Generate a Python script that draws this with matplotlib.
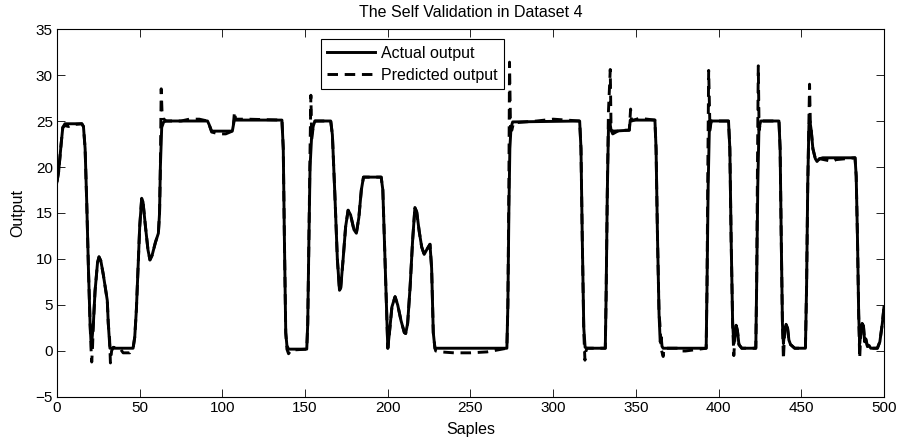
import matplotlib
matplotlib.use("Agg")
import matplotlib.pyplot as plt

plt.rcParams['font.family'] = ['Liberation Sans', 'DejaVu Sans']

title = "The Self Validation in Dataset 4"
x_label = "Saples"
y_label = "Output"
legend_labels = ["Actual output", "Predicted output"]
x_ticks = [0, 50, 100, 150, 200, 250, 300, 350, 400, 450, 500]
y_ticks = [-5, 0, 5, 10, 15, 20, 25, 30, 35]

# Actual output: (sample, value)
actual_pts = [
    (0, 18.4), (1, 19.5), (2.5, 22.5), (3.5, 24.3), (4.8, 24.7), (15, 24.7), (16, 24.4),
    (17, 22), (18, 16), (19, 9), (20, 3), (20.5, 1.2), (21, 0.9), (22, 3), (23, 6.5),
    (24.5, 9.6), (25.4, 10.25), (26.5, 9.8), (28, 8.3), (29.5, 6.5), (30.4, 5.5), (31, 3),
    (32, 0.3), (46, 0.3), (47, 1.5), (48, 4.5), (49, 9), (50, 13.5), (51.2, 16.6), (52, 16.2),
    (53.5, 13.5), (55, 11), (56.2, 9.9), (57.5, 10.4), (59.5, 11.8), (61.3, 12.8), (62, 15),
    (62.5, 20), (63.3, 24.3), (64.5, 24.9), (66, 25), (91, 25), (92, 24.6), (93.5, 23.9),
    (106, 23.9), (106.6, 24.5), (107.2, 25.1), (136, 25.1), (136.8, 22), (137.5, 12),
    (138.3, 2), (139, 0.6), (140, 0.2), (151, 0.2), (151.6, 3), (152.3, 12), (153, 20),
    (154, 23.5), (155, 24.5), (156, 25), (165.5, 25), (166.5, 23.5), (168, 17), (169.5, 10),
    (170.8, 6.6), (171.5, 6.8), (173, 10), (174.5, 13.5), (176, 15.3), (177.5, 14.8),
    (179.5, 13.2), (181, 12.8), (182.5, 14.5), (184, 17.5), (185.3, 18.9), (196, 18.9),
    (197, 17.5), (198.5, 9), (199.5, 3), (200, 0.3), (201, 2), (202.5, 4.8), (204.4, 5.9),
    (206, 5), (208, 3.3), (210, 2), (210.8, 1.9), (212, 3), (213.5, 7), (215, 12),
    (216.4, 15.6), (217.5, 15.1), (219, 13), (220.5, 11.3), (222, 10.5), (223.5, 11),
    (225.5, 11.6), (226.5, 9), (227.5, 2), (228.5, 0.3), (272, 0.3), (272.6, 5), (273.2, 15),
    (273.8, 22), (274.5, 24.3), (275.5, 24.9), (316, 25), (316.8, 22), (317.6, 12),
    (318.5, 2.5), (319.3, 0.4), (320.5, 0.3), (331.5, 0.3), (332, 6), (332.7, 17), (333.4, 24),
    (334.3, 24.8), (335, 24), (336.5, 23.9), (346, 24), (346.6, 25.1), (361.5, 25.1),
    (362.2, 22), (363, 13), (364, 4), (364.7, 1), (365.3, 1.5), (365.8, 0.5), (366.5, 0.3),
    (392.5, 0.3), (393, 7), (393.7, 18), (394.4, 24), (395.5, 25), (406, 25), (406.8, 22),
    (407.6, 12), (408.5, 3), (409.2, 0.8), (410, 1.8), (410.6, 2.8), (411.4, 2.2),
    (412.3, 0.7), (414, 0.3), (422.5, 0.3), (423, 7), (423.7, 18), (424.4, 24.2), (425.5, 25),
    (436.5, 25), (437.2, 22), (437.9, 12), (438.6, 3), (439.2, 0.8), (440, 2.3), (440.8, 2.9),
    (441.7, 2.5), (442.5, 1.2), (443.5, 0.7), (446, 0.3), (452.5, 0.3), (453.2, 7),
    (453.9, 18), (454.6, 24.5), (455.2, 25), (456, 24), (457, 22), (458.5, 20.9),
    (459.5, 20.6), (461, 20.9), (463, 21), (482.5, 21), (483.2, 19), (484, 12), (484.7, 4),
    (485.3, 0.8), (486, 2), (486.8, 3), (487.6, 2.7), (488.3, 1), (489, 1.3), (490, 0.5),
    (491, 0.6), (492, 0.3), (496, 0.3), (497.5, 1), (499, 3), (500, 4.8),
]

# Predicted output: (sample, value)
predicted_pts = [
    (0, 18.4), (1, 19.5), (2.5, 22.5), (3.5, 24.3), (4.8, 24.5), (7, 24.4), (9, 24.6),
    (15, 24.7), (16, 24.4), (17, 22), (18, 16), (19, 9), (20, 3), (20.5, 0.5), (21, -1.2),
    (21.5, 0.5), (22, 3), (23, 6.5), (24.5, 9.6), (25.4, 10.2), (26.5, 9.8), (28, 8.3),
    (29.5, 6.5), (30.4, 5.5), (31, 3), (31.8, 1.3), (32.3, -1.3), (33, 0), (34, 0.4),
    (38, 0.3), (40, -0.2), (44, -0.2), (46, 0.3), (47, 1.5), (48, 4.5), (49, 9), (50, 13.5),
    (51.2, 16.6), (52, 16.2), (53.5, 13.5), (55, 11), (56.2, 9.9), (57.5, 10.4),
    (59.5, 11.8), (61.3, 12.8), (62, 15), (62.5, 20), (63, 28.5), (63.5, 26), (64, 25.3),
    (66, 25), (75, 25), (80, 25.2), (86, 25.2), (91, 25), (92, 24.6), (93.5, 23.8),
    (98, 23.6), (102, 23.6), (106, 23.9), (106.6, 24.5), (107.3, 26), (108, 25.2),
    (115, 25.2), (136, 25.1), (136.8, 22), (137.5, 12), (138.3, 2), (139, 0.2), (140, -0.3),
    (141.5, 0.1), (151, 0.2), (151.6, 3), (152.3, 12), (153, 22), (153.5, 27.8), (154, 23),
    (155, 24.5), (156, 25), (165.5, 25), (166.5, 23.5), (168, 17), (169.5, 10), (170.8, 6.6),
    (171.5, 6.8), (173, 10), (174.5, 13.5), (176, 15.3), (177.5, 14.8), (179.5, 13.2),
    (181, 12.8), (182.5, 14.5), (184, 17.5), (185.3, 18.9), (196, 18.9), (197, 17.5),
    (198.5, 9), (199.5, 3), (200, 0.3), (201, 2), (202.5, 4.8), (204.4, 5.9), (206, 5),
    (208, 3.3), (210, 2), (210.8, 1.9), (212, 3), (213.5, 7), (215, 12), (216.4, 15.6),
    (217.5, 15.1), (219, 13), (220.5, 11.3), (222, 10.5), (223.5, 11), (225.5, 11.6),
    (226.5, 9), (227.5, 2), (228.5, 0.3), (229, 0), (232, -0.1), (240, -0.2), (250, -0.2),
    (260, -0.1), (272, 0.3), (272.6, 5), (273.2, 18), (273.6, 31.4), (274.2, 24.3),
    (275, 24), (276, 24.8), (290, 25), (300, 25.2), (316, 25), (316.8, 22), (317.6, 12),
    (318.5, 2), (319.2, -1), (319.8, 0), (320.5, 0.3), (331.5, 0.3), (332, 6), (332.7, 17),
    (333.4, 26), (334.5, 30.6), (335, 24), (336, 23.6), (340, 24), (346, 24), (346.8, 26.3),
    (347.4, 25), (352, 25.3), (361.5, 25.1), (362.2, 22), (363, 13), (364, 4), (364.5, 3),
    (365.3, 0.2), (366.5, -0.6), (367, 0.3), (377, 0.3), (378, 0), (380, 0), (392.5, 0.3),
    (393, 7), (393.5, 20), (394, 30.5), (394.8, 24), (395.5, 25), (406, 25), (406.8, 22),
    (407.6, 12), (408.5, 3), (409.2, -0.5), (410, 1.8), (410.6, 2.8), (411.4, 2.2),
    (412.3, 0.7), (414, 0.3), (422.5, 0.3), (423, 7), (423.5, 20), (424, 31), (424.5, 24),
    (425.5, 25), (436.5, 25), (437.2, 22), (437.9, 12), (438.6, 3), (439.2, -0.9),
    (440, 2.3), (440.8, 2.9), (441.7, 2.5), (442.5, 1.2), (443.5, 0.7), (446, 0.3),
    (452.5, 0.3), (453.2, 7), (453.9, 18), (455, 29), (455.5, 24.5), (456, 24), (457, 22),
    (458.5, 20.9), (459.5, 20.6), (461, 20.9), (469, 20.6), (471, 20.8), (482.5, 21),
    (483.2, 19), (484, 12), (484.7, 4), (485.3, -0.8), (486, 2), (486.8, 3), (487.6, 2.7),
    (488.3, 1), (489, 1.3), (490, 0.5), (491, 0.6), (492, 0.3), (496, 0.3), (497.5, 1),
    (499, 3), (500, 4.8),
]

actual_x, actual_y = zip(*actual_pts)
pred_x, pred_y = zip(*predicted_pts)

fig = plt.figure(figsize=(8.99, 4.45), dpi=100)
ax = fig.add_axes([0.0634, 0.1079, 0.9199, 0.8269])

ax.plot(actual_x, actual_y, color='black', linewidth=2.1, linestyle='-',
        label=legend_labels[0])
ax.plot(pred_x, pred_y, color='black', linewidth=2.1, linestyle=(0, (3.6, 2.3)),
        label=legend_labels[1])

ax.set_xlim(0, 500)
ax.set_ylim(-5, 35)
ax.set_xticks(x_ticks)
ax.set_yticks(y_ticks)
ax.tick_params(direction='in', length=5.8, width=0.6, top=True, right=True,
               labelsize=11, pad=3)
for sp in ax.spines.values():
    sp.set_linewidth(0.8)

ax.set_title(title, fontsize=11.5, pad=8.5)
ax.set_xlabel(x_label, fontsize=11.5, labelpad=5)
ax.set_ylabel(y_label, fontsize=11.5, labelpad=7)

leg = ax.legend(loc='upper left', bbox_to_anchor=(0.319, 0.972), fontsize=11.5,
                frameon=True, fancybox=False, edgecolor='black', framealpha=1,
                handlelength=3.0, borderpad=0.4, labelspacing=0.45,
                handletextpad=0.35, borderaxespad=0)
leg.get_frame().set_linewidth(0.8)

fig.savefig("out.png", dpi=100)
